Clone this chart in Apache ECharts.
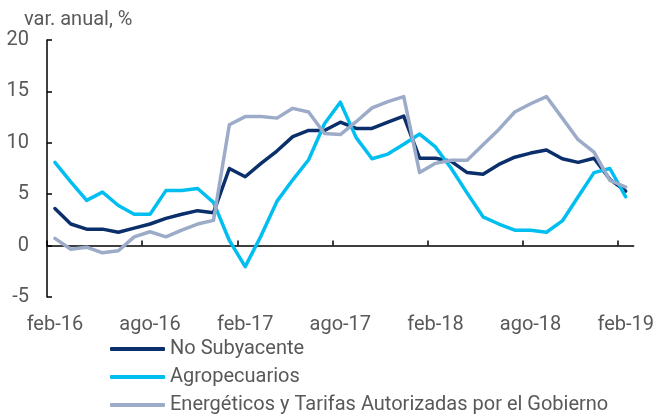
<!DOCTYPE html>
<html>
<head>
<meta charset="utf-8">
<script src="https://cdn.jsdelivr.net/npm/echarts@6/dist/echarts.min.js"></script>
<style>html,body{margin:0;padding:0;background:#fff}#c{width:657px;height:420px}</style>
</head>
<body>
<div id="c"></div>
<script>
var months = ['feb-16','mar-16','abr-16','may-16','jun-16','jul-16','ago-16','sep-16','oct-16','nov-16','dic-16','ene-17',
  'feb-17','mar-17','abr-17','may-17','jun-17','jul-17','ago-17','sep-17','oct-17','nov-17','dic-17','ene-18',
  'feb-18','mar-18','abr-18','may-18','jun-18','jul-18','ago-18','sep-18','oct-18','nov-18','dic-18','ene-19','feb-19'];
var tickLabels = ['feb-16','ago-16','feb-17','ago-17','feb-18','ago-18','feb-19'];
var labelEvery = 6;
var yTicks = [-5, 0, 5, 10, 15, 20];
var noSubyacente = [3.6, 2.1, 1.6, 1.6, 1.3, 1.7, 2.1, 2.65, 3.05, 3.4, 3.2, 7.5, 6.7, 8.0, 9.2, 10.6, 11.2, 11.2, 12.0, 11.4, 11.4, 12.0, 12.6, 8.5, 8.5, 8.2, 7.1, 6.95, 7.9, 8.6, 9.0, 9.3, 8.45, 8.1, 8.5, 6.45, 5.3];
var agropecuarios = [8.1, 6.2, 4.4, 5.2, 3.9, 3.05, 3.05, 5.35, 5.35, 5.55, 4.2, 0.5, -2.05, 0.95, 4.3, 6.4, 8.35, 11.85, 13.95, 10.5, 8.45, 8.9, 9.85, 10.85, 9.6, 7.5, 5.1, 2.8, 2.1, 1.5, 1.5, 1.3, 2.4, 4.75, 7.1, 7.5, 4.75];
var energeticos = [0.7, -0.35, -0.15, -0.7, -0.5, 0.85, 1.35, 0.85, 1.5, 2.1, 2.45, 11.75, 12.55, 12.55, 12.4, 13.35, 13.0, 10.9, 10.8, 12.05, 13.4, 14.0, 14.5, 7.1, 8.0, 8.3, 8.3, 9.8, 11.3, 13.0, 13.8, 14.5, 12.4, 10.3, 9.1, 6.35, 5.7];
var names = ['No Subyacente', 'Agropecuarios', 'Energéticos y Tarifas Autorizadas por el Gobierno'];
var colors = ['#0b2f6b', '#00bff0', '#9cabc8'];

// Month i occupies the band [i, i+1] on the value axis; points sit at band centres.
var tickPositions = [], labelPositions = [];
for (var k = 0; k < tickLabels.length; k++) {
  tickPositions.push(k * labelEvery);
  labelPositions.push(k * labelEvery + 0.5);
}
function toPairs(values) {
  return values.map(function (v, i) { return [i + 0.5, v]; });
}

var FONT = "Roboto, 'Liberation Sans', sans-serif";
var TXT = '#595959';
var chart = echarts.init(document.getElementById('c'));
function mk(name, data, color) {
  return {
    name: name, type: 'line', data: toPairs(data),
    showSymbol: false, symbol: 'none', smooth: false,
    lineStyle: { color: color, width: 3.5, cap: 'round', join: 'round' },
    itemStyle: { color: color }
  };
}
chart.setOption({
  animation: false,
  textStyle: { fontFamily: FONT },
  title: {
    text: 'var. anual, %', left: 24, top: 10, padding: 0,
    textStyle: { fontFamily: FONT, fontSize: 20, fontWeight: 'normal', color: TXT }
  },
  grid: { left: 47, right: 21, top: 40, bottom: 123, containLabel: false },
  legend: {
    orient: 'vertical', left: 110, top: 339, padding: 0,
    icon: 'roundRect', itemWidth: 55, itemHeight: 4, itemGap: 8,
    textStyle: { fontFamily: FONT, fontSize: 20, lineHeight: 20, color: TXT },
    data: names
  },
  xAxis: {
    type: 'value', min: 0, max: months.length,
    axisLine: { show: true, onZero: true, lineStyle: { color: '#000', width: 1.5 } },
    axisTick: { show: true, inside: true, length: 5, customValues: tickPositions, lineStyle: { color: '#000', width: 1.5 } },
    axisLabel: {
      show: true, customValues: labelPositions, margin: 18,
      fontFamily: FONT, fontSize: 20, color: TXT,
      formatter: function (v) { var k = labelPositions.indexOf(v); return k >= 0 ? tickLabels[k] : ''; }
    },
    splitLine: { show: false }
  },
  yAxis: {
    type: 'value', min: yTicks[0], max: yTicks[yTicks.length - 1], interval: 5,
    axisLine: { show: true, onZero: false, lineStyle: { color: '#000', width: 1.5 } },
    axisTick: { show: true, inside: true, length: 5, lineStyle: { color: '#000', width: 1.5 } },
    axisLabel: { margin: 18, fontFamily: FONT, fontSize: 20, color: TXT },
    splitLine: { show: false }
  },
  series: [
    mk(names[0], noSubyacente, colors[0]),
    mk(names[1], agropecuarios, colors[1]),
    mk(names[2], energeticos, colors[2])
  ]
});
</script>
</body>
</html>
